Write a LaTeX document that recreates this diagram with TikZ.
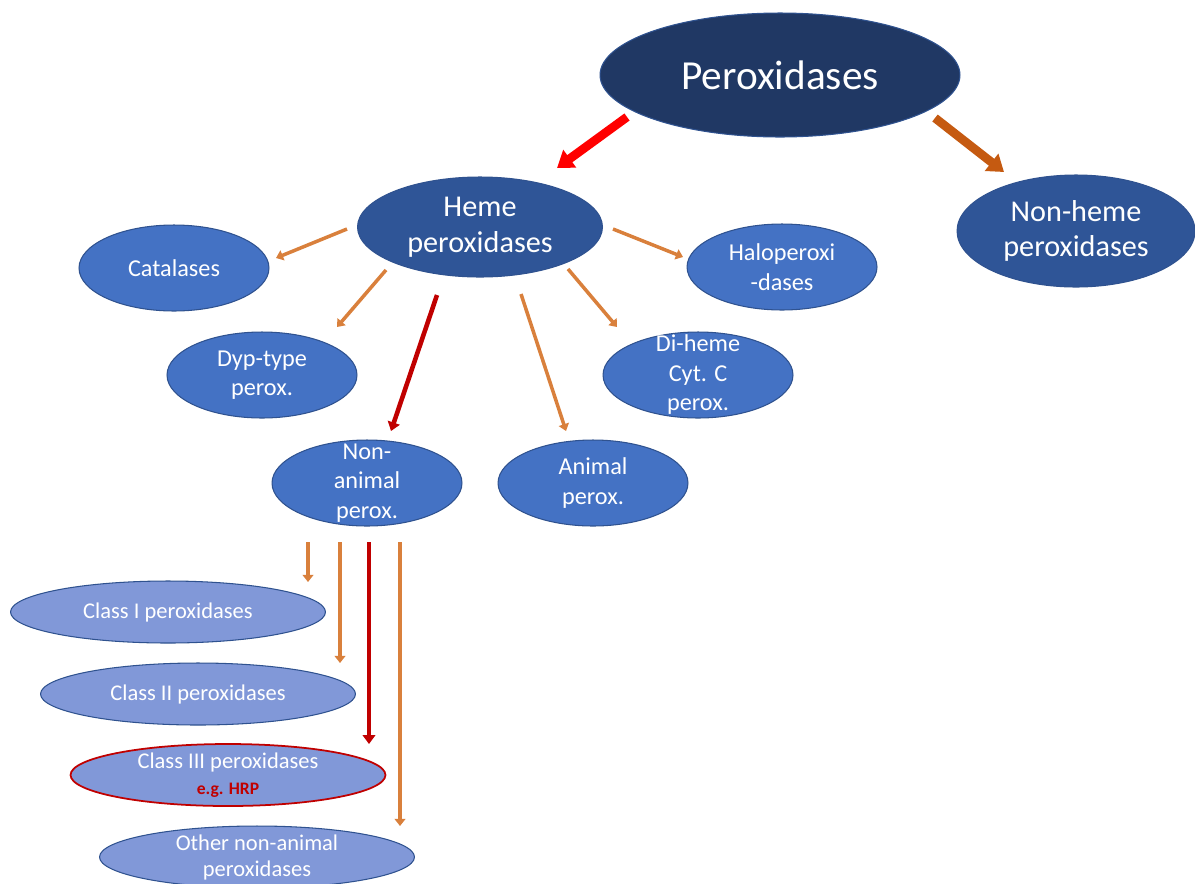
\documentclass[tikz,border=0pt]{standalone}
\usepackage{fontspec}
\setmainfont{Carlito}
\usepackage{xcolor}
\usepackage{tikz}
\usetikzlibrary{arrows.meta,shapes.geometric}
\definecolor{navy}{HTML}{203864}
\definecolor{hemeblue}{HTML}{2F5597}
\definecolor{midblue}{HTML}{4472C4}
\definecolor{paleblue}{HTML}{8198D8}
\definecolor{rimblue}{HTML}{2F528F}
\definecolor{rust}{HTML}{C55A11}
\definecolor{ochre}{HTML}{D9803C}
\definecolor{darkred}{HTML}{C00000}
\definecolor{brightred}{HTML}{FF0000}

\begin{document}
\begin{tikzpicture}[x=0.02cm,y=-0.02cm,>=Stealth,line join=round,
  blob/.style={ellipse,draw=rimblue,line width=0.6pt,inner sep=0pt,text=white,align=center},
  rootnode/.style={blob,fill=navy,minimum width=7.2cm,minimum height=2.48cm,font=\fontsize{23.5}{27}\selectfont},
  mainnode/.style={blob,fill=hemeblue,minimum width=4.9cm,minimum height=2.0cm,font=\fontsize{17.2}{20.4}\selectfont},
  subnode/.style={blob,fill=midblue,inner ysep=-7pt,minimum width=3.8cm,minimum height=1.72cm,font=\fontsize{13.8}{16.8}\selectfont},
  classnode/.style={blob,fill=paleblue,inner ysep=-2pt,minimum width=6.3cm,minimum height=1.24cm,font=\fontsize{12.8}{14.8}\selectfont},
  bigarrow/.style={line width=5pt,-{Triangle[length=9pt,width=12pt]}},
  smallarrow/.style={ochre,line width=2pt,-{Triangle[length=4pt,width=6pt]}},
  redarrow/.style={darkred,line width=2.6pt,-{Triangle[length=5pt,width=7pt]}}]
  \useasboundingbox (0,0) rectangle (1195,883);
  \node[rootnode] (perox) at (780,75) {Peroxidases};
  \node[mainnode] (heme) at (480,227) {Heme\\peroxidases};
  \node[mainnode,minimum width=4.76cm,minimum height=2.24cm] (nonheme) at (1076,231) {Non-heme\\peroxidases};
  \node[subnode] (catal) at (174,268) {Catalases};
  \node[subnode] (halo) at (782,267) {Haloperoxi\\-dases};
  \node[subnode] (dyp) at (262,375) {Dyp-type\\perox.};
  \node[subnode] (diheme) at (698,375) {Di-heme\\Cyt. C\\perox.};
  \node[subnode] (nonanimal) at (367,483) {Non-\\animal\\perox.};
  \node[subnode] (animal) at (593,483) {Animal\\perox.};
  \node[classnode] (class1) at (168,612) {Class I peroxidases};
  \node[classnode] (class2) at (198,694) {Class II peroxidases};
  \node[classnode,draw=darkred,line width=1pt] (class3) at (228,775) {Class III peroxidases\\{\bfseries\color{darkred}\fontsize{10}{13}\selectfont e.g. HRP}};
  \node[classnode] (other) at (257,857) {Other non-animal\\peroxidases};
  \coordinate (pA) at (627,117);
  \coordinate (pB) at (557,168);
  \coordinate (pC) at (935,118);
  \coordinate (pD) at (1004,172);
  \coordinate (hA) at (347,229);
  \coordinate (hB) at (276,258);
  \coordinate (hC) at (386,270);
  \coordinate (hD) at (337,327);
  \coordinate (hE) at (437,295);
  \coordinate (hF) at (391,431);
  \coordinate (hG) at (521,294);
  \coordinate (hH) at (566,431);
  \coordinate (hI) at (568,269);
  \coordinate (hJ) at (617,327);
  \coordinate (hK) at (613,229);
  \coordinate (hL) at (683,257);
  \coordinate (nA) at (308,542);
  \coordinate (nB) at (308,582);
  \coordinate (nC) at (340,542);
  \coordinate (nD) at (340,663);
  \coordinate (nE) at (369,542);
  \coordinate (nF) at (369,744);
  \coordinate (nG) at (400,542);
  \coordinate (nH) at (400,826);
  \draw[bigarrow,brightred] (pA) -- (pB);
  \draw[bigarrow,rust] (pC) -- (pD);
  \draw[smallarrow] (hA) -- (hB);
  \draw[smallarrow] (hC) -- (hD);
  \draw[redarrow] (hE) -- (hF);
  \draw[smallarrow] (hG) -- (hH);
  \draw[smallarrow] (hI) -- (hJ);
  \draw[smallarrow] (hK) -- (hL);
  \draw[smallarrow] (nA) -- (nB);
  \draw[smallarrow] (nC) -- (nD);
  \draw[redarrow] (nE) -- (nF);
  \draw[smallarrow] (nG) -- (nH);
\end{tikzpicture}
\end{document}
